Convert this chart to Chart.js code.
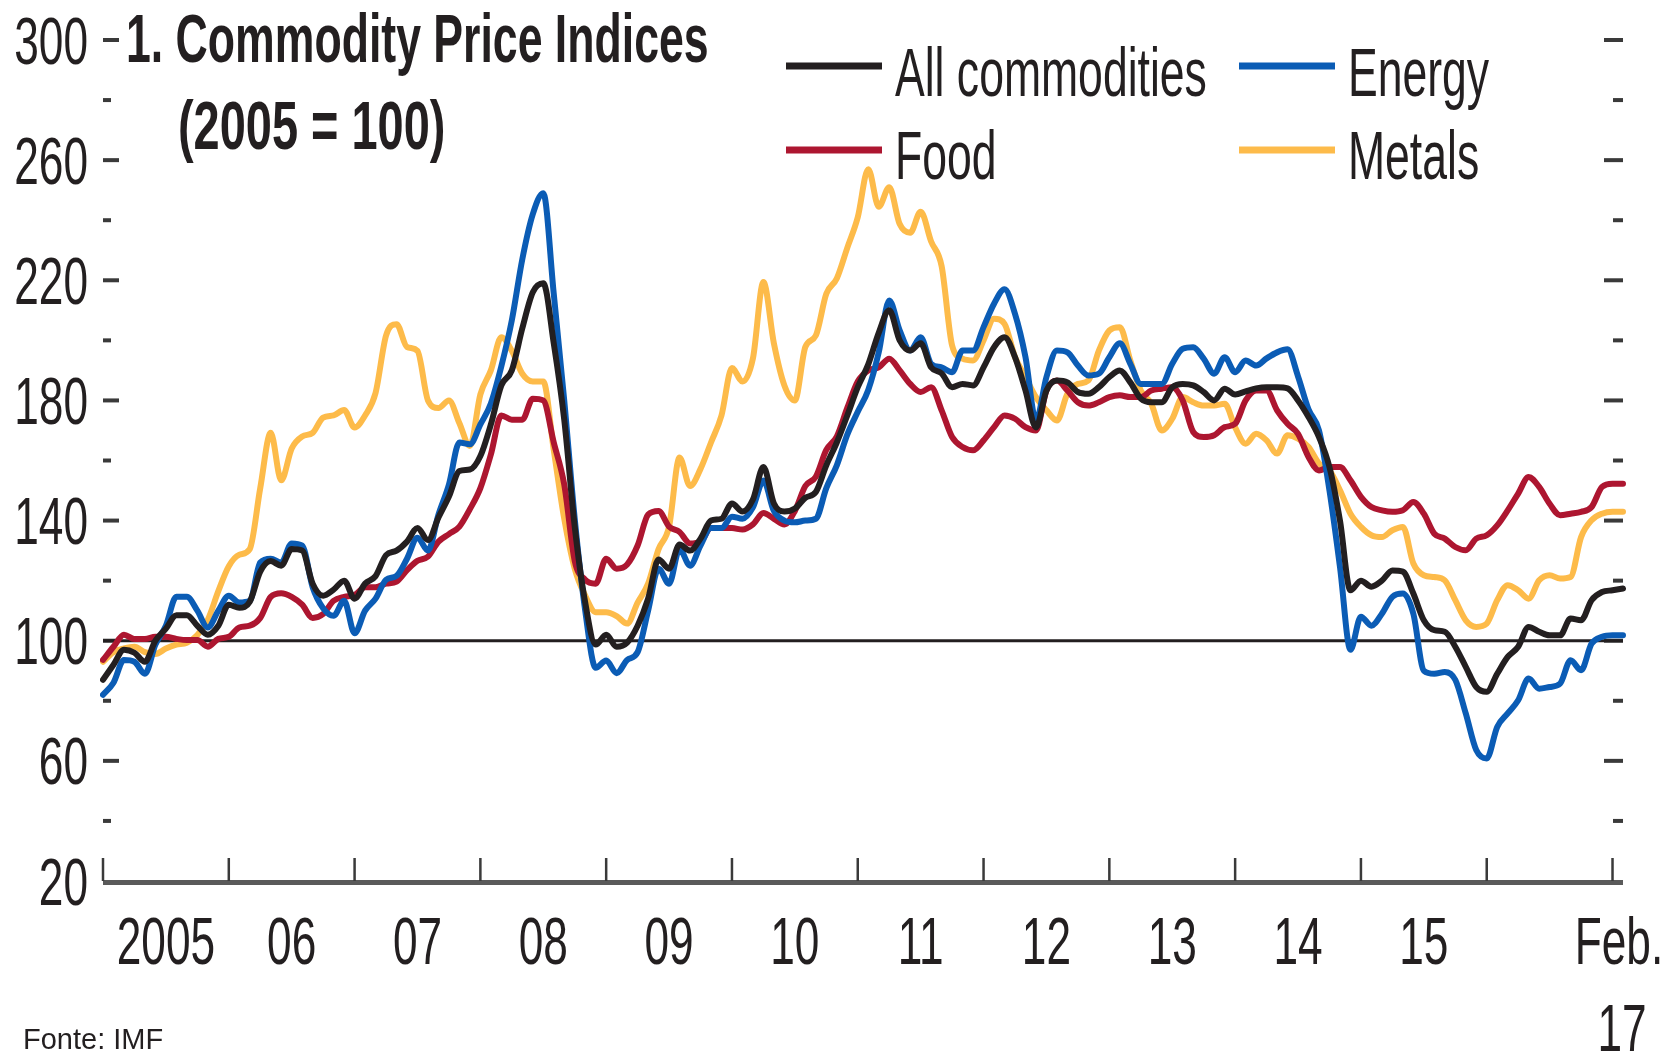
<!DOCTYPE html>
<html>
<head>
<meta charset="utf-8">
<script src="https://cdn.jsdelivr.net/npm/chart.js@4/dist/chart.umd.min.js"></script>
<style>
  html, body { margin: 0; padding: 0; background: #ffffff; }
  canvas { display: block; }
</style>
</head>
<body>
<canvas id="c" width="1671" height="1052"></canvas>
<script>
// ---------- DATA ----------
// Monthly categories, Jan 2005 .. Feb 2017
const categories = [];
for (let yr = 2005; yr <= 2017; yr++) {
  for (let mo = 1; mo <= 12; mo++) {
    if (yr === 2017 && mo > 2) break;
    categories.push(yr + '-' + String(mo).padStart(2, '0'));
  }
}

const seriesLabels = ['All commodities', 'Energy', 'Food', 'Metals'];

const allCommodities = [
  87, 92, 97, 96, 93, 100, 104, 108.5, 108.5, 105, 102, 105,
  112, 111, 113, 123, 126.5, 125, 130.5, 130, 119, 115, 117, 120,
  114, 119, 121.5, 128.5, 130, 133, 137.5, 133.5, 141, 148, 156.5, 157,
  161.5, 172, 185, 190, 204, 216, 219, 199, 173.6, 138, 112.7, 98.7,
  102, 98, 99.4, 105, 114, 127, 124, 132, 130, 134, 140, 140.6,
  145.7, 143, 147, 157.8, 145.7, 143, 144, 147.6, 149.5, 158.4, 166, 175,
  184.4, 192, 202.5, 210, 200, 196.6, 199, 191, 189, 184.4, 185.5, 185,
  191, 197.7, 201, 194.4, 183.3, 171, 183.3, 186.6, 186, 182.8, 182.2, 184.4,
  187.8, 190, 186, 180.6, 179.4, 179.4, 184.4, 185.5, 185, 182.8, 180, 183.9,
  182, 183, 184, 184.4, 184.4, 184, 180, 174.5, 167.8, 157.8, 140, 116.8,
  120, 118, 120, 123.4, 123, 115.7, 106.8, 103.5, 103, 98, 91.3, 84.6,
  83, 89, 94.6, 98, 104.6, 103, 101.8, 101.8, 107.4, 106.8, 113.5, 116.2,
  116.8, 117.4
];

const energy = [
  82, 86, 93.6, 93, 89, 98.7, 105, 114.6, 114.6, 110, 104.4, 110,
  115, 112.7, 113.3, 126, 127.3, 126, 132.4, 131.7, 117.8, 110.8, 108.3, 113.3,
  102.5, 110, 114, 120.3, 121.6, 127.3, 134.3, 130, 142, 152, 166, 165.4,
  172, 179, 191.4, 206.7, 227, 242, 249, 215.5, 180, 140.6, 110, 91,
  93.4, 89.2, 93.6, 96.2, 110, 124, 119, 130.5, 125, 131.7, 137.5, 137.5,
  141.3, 140.6, 144.4, 153.3, 143.2, 140, 139.4, 140, 140.6, 150.8, 158.4, 168.6,
  176.2, 183.5, 196, 213.3, 203.3, 196.6, 201, 192.2, 191, 189.4, 196.6, 196.6,
  204.4, 212.2, 217, 208.8, 194.4, 173.3, 187.8, 196.6, 196, 191.6, 188.3, 188.9,
  194.4, 199, 192.2, 185.5, 185.5, 185.5, 192.2, 197.2, 197.7, 193.9, 188.9, 194.4,
  189.4, 193.3, 191.6, 194, 196, 197, 188, 177, 170, 150, 124.6, 97,
  108, 105, 109, 114.6, 115.7, 109, 90, 89, 89.6, 87, 75.8, 63.6,
  60.8, 71.3, 75.8, 80.2, 87.4, 84, 84.6, 85.7, 93.5, 90.2, 99, 101.3,
  101.8, 101.8
];

const food = [
  93.6, 98, 102, 100.6, 100.6, 101.3, 101.3, 100.6, 100.2, 100.2, 98, 100.6,
  101.3, 104.4, 105, 107.6, 114.6, 115.8, 114.6, 112, 107.6, 108.9, 113.3, 114.6,
  115.2, 117.8, 117.8, 119, 119.7, 123.5, 126.6, 128, 133, 135.5, 138, 143.8,
  150.8, 162, 175, 173.6, 173.6, 180.6, 180, 166, 152, 126.6, 120.3, 119,
  127.3, 124, 125.4, 131.7, 142, 143.2, 138, 136.2, 132.4, 133, 137.5, 137.5,
  137.5, 137, 138.7, 142.5, 140.6, 138.7, 143.2, 151.5, 154.6, 163.5, 168, 177.5,
  186.3, 190, 191, 193.9, 190, 185.5, 182.8, 184.4, 176.7, 167.8, 164.5, 163.4,
  166.7, 171.1, 175, 173.9, 171.1, 170, 183.3, 186.6, 183.3, 179.4, 178.3, 179.4,
  181.1, 181.7, 181.1, 181.1, 183.3, 183.9, 184.4, 180, 169.5, 167.8, 168.4, 171.1,
  172.2, 180, 183.3, 183.3, 176.7, 172.2, 168.9, 161.2, 156.7, 157.8, 157.8, 153.4,
  147.9, 144.5, 143.4, 142.9, 143.4, 146.2, 142.3, 135.6, 134, 131.2, 130.1, 134,
  135.1, 138.4, 143.4, 149, 154.5, 151.2, 145.6, 141.8, 142.3, 142.9, 144.5, 151.2,
  152.3, 152.3
];

const metals = [
  93, 96.2, 97.4, 98, 96.2, 95.6, 97.4, 98.7, 99.3, 101.9, 107, 116.5,
  124.8, 128.6, 130.5, 150.8, 169.2, 153.4, 164, 168, 169.2, 174.3, 175, 176.8,
  171, 175, 182.5, 201.6, 205.4, 197.8, 196.5, 180, 177.5, 180, 172.4, 164.8,
  182, 190, 201, 196.5, 188.9, 186.3, 186.3, 163.5, 140.6, 124, 115, 109.5,
  109.5, 108.2, 105.7, 112.7, 119, 130.5, 138, 161, 151.5, 157.2, 166, 175,
  190.8, 186.3, 194, 219.4, 199, 185, 180, 197.8, 201.6, 215.5, 220.6, 230.8,
  241, 257, 244.5, 251, 238.7, 235.8, 242.8, 232.9, 224.7, 198.3, 193.9, 193.3,
  200, 207.2, 205.5, 194.4, 187.8, 181.1, 176.7, 173.3, 182.2, 185.5, 186.6, 196.6,
  203.3, 204.4, 193.3, 183.3, 178.9, 170, 173.9, 181.1, 179.4, 178.3, 178.3, 178.9,
  171, 165.6, 168.9, 166.7, 162.3, 168.4, 167.3, 164.5, 159, 156.7, 150.1, 142.3,
  137.9, 135.1, 134.5, 136.8, 137.9, 125.7, 121.8, 121.2, 120.1, 113.5, 106.8, 104.6,
  105.7, 113.5, 118.5, 116.8, 114, 120.1, 121.8, 120.7, 121.2, 134.5, 140.1, 142.3,
  142.9, 142.9
];

const yMajorTicks = [300, 260, 220, 180, 140, 100, 60, 20];
const yMinorTicks = [280, 240, 200, 160, 120, 80, 40];
const xYearLabels = ['2005', '06', '07', '08', '09', '10', '11', '12', '13', '14', '15'];
const xEndLabel = ['Feb.', '17'];
const titleLines = ['1. Commodity Price Indices', '(2005 = 100)'];
const sourceNote = 'Fonte: IMF';
const referenceValue = 100;

// ---------- STYLE ----------
const COLORS = {
  all: '#231f20',
  energy: '#0b5cb5',
  food: '#ad1630',
  metals: '#fdbb4a',
  axis: '#5a5a5a',
  tick: '#3a3a3a',
  text: '#231f20'
};
const FONT = '"Liberation Sans", Arial, Helvetica, sans-serif';
const CONDENSE = 0.66;

function drawText(ctx, s, x, y, size, opts) {
  opts = opts || {};
  ctx.save();
  ctx.font = (opts.weight || 'normal') + ' ' + size + 'px ' + FONT;
  ctx.fillStyle = opts.color || COLORS.text;
  ctx.textAlign = opts.align || 'left';
  ctx.textBaseline = 'alphabetic';
  ctx.translate(x, y);
  ctx.scale(opts.sx == null ? CONDENSE : opts.sx, 1);
  ctx.fillText(s, 0, 0);
  ctx.restore();
}

function hLine(ctx, x1, x2, y, w, c) {
  ctx.save();
  ctx.strokeStyle = c; ctx.lineWidth = w; ctx.lineCap = 'butt';
  ctx.beginPath(); ctx.moveTo(x1, y); ctx.lineTo(x2, y); ctx.stroke();
  ctx.restore();
}
function vLine(ctx, x, y1, y2, w, c) {
  ctx.save();
  ctx.strokeStyle = c; ctx.lineWidth = w; ctx.lineCap = 'butt';
  ctx.beginPath(); ctx.moveTo(x, y1); ctx.lineTo(x, y2); ctx.stroke();
  ctx.restore();
}

const decorPlugin = {
  id: 'decor',
  beforeDatasetsDraw(chart) {
    const ctx = chart.ctx;
    const a = chart.chartArea;
    const ys = chart.scales.y;
    const xs = chart.scales.x;

    // left / right tick marks
    yMajorTicks.forEach(v => {
      const y = ys.getPixelForValue(v);
      if (v !== 20) {
        hLine(ctx, a.left, a.left + 16, y, 4, COLORS.tick);
        hLine(ctx, a.right - 19, a.right, y, 4, COLORS.tick);
      }
    });
    yMinorTicks.forEach(v => {
      const y = ys.getPixelForValue(v);
      hLine(ctx, a.left, a.left + 8, y, 4, COLORS.tick);
      hLine(ctx, a.right - 10, a.right, y, 4, COLORS.tick);
    });

    // reference line at 100
    const y100 = ys.getPixelForValue(referenceValue);
    hLine(ctx, a.left, a.right, y100, 3, '#231f20');

    // bottom axis
    const yBottom = ys.getPixelForValue(20);
    hLine(ctx, a.left, a.right, yBottom + 1.5, 5, COLORS.axis);
    for (let i = 0; i < categories.length; i += 12) {
      const x = xs.getPixelForValue(i);
      vLine(ctx, x, yBottom - 23, yBottom, 2.5, COLORS.tick);
    }
  },
  afterDraw(chart) {
    const ctx = chart.ctx;
    const ys = chart.scales.y;
    const xs = chart.scales.x;

    // y tick labels
    yMajorTicks.forEach(v => {
      const y = ys.getPixelForValue(v);
      drawText(ctx, String(v), 88, y + 23.5, 66, { align: 'right', sx: 0.67 });
    });

    // x labels centred on each year
    xYearLabels.forEach((lab, k) => {
      const x0 = xs.getPixelForValue(k * 12);
      const x1 = xs.getPixelForValue(k * 12 + 12);
      drawText(ctx, lab, (x0 + x1) / 2, 964, 66, { align: 'center', sx: 0.67 });
    });
    const xEnd = xs.getPixelForValue(categories.length - 1);
    drawText(ctx, xEndLabel[0], xEnd - 4, 964, 66, { align: 'center', sx: 0.67 });
    drawText(ctx, xEndLabel[1], xEnd - 1, 1051, 66, { align: 'center', sx: 0.67 });

    // title
    drawText(ctx, titleLines[0], 126, 62, 68, { weight: 'bold', sx: 0.656 });
    drawText(ctx, titleLines[1], 178, 149, 68, { weight: 'bold', sx: 0.69 });

    // legend
    const ds = chart.data.datasets;
    const slots = [
      { i: 0, lx: 786, tx: 895, ly: 66, ty: 96 },
      { i: 1, lx: 1239, tx: 1348, ly: 66, ty: 96 },
      { i: 2, lx: 786, tx: 895, ly: 150, ty: 179 },
      { i: 3, lx: 1239, tx: 1348, ly: 150, ty: 179 }
    ];
    slots.forEach(s => {
      hLine(ctx, s.lx, s.lx + 96, s.ly, 7, ds[s.i].borderColor);
      drawText(ctx, ds[s.i].label, s.tx, s.ty, 68, { sx: 0.655 });
    });

    // source
    drawText(ctx, sourceNote, 23, 1049, 29, { sx: 1 });
  }
};

new Chart(document.getElementById('c'), {
  type: 'line',
  data: {
    labels: categories,
    datasets: [
      { label: seriesLabels[0], data: allCommodities, borderColor: COLORS.all },
      { label: seriesLabels[1], data: energy, borderColor: COLORS.energy },
      { label: seriesLabels[2], data: food, borderColor: COLORS.food },
      { label: seriesLabels[3], data: metals, borderColor: COLORS.metals }
    ]
  },
  options: {
    responsive: false,
    animation: false,
    devicePixelRatio: 1,
    layout: { padding: { left: 103, right: 48, top: 40, bottom: 171 } },
    scales: {
      x: { type: 'category', display: false, offset: false },
      y: { type: 'linear', min: 20, max: 300, display: false }
    },
    elements: {
      point: { radius: 0, hoverRadius: 0 },
      line: { borderWidth: 6, cubicInterpolationMode: 'monotone', borderJoinStyle: 'round', borderCapStyle: 'round', fill: false }
    },
    plugins: { legend: { display: false }, tooltip: { enabled: false } },
    events: []
  },
  plugins: [decorPlugin]
});
</script>
</body>
</html>
